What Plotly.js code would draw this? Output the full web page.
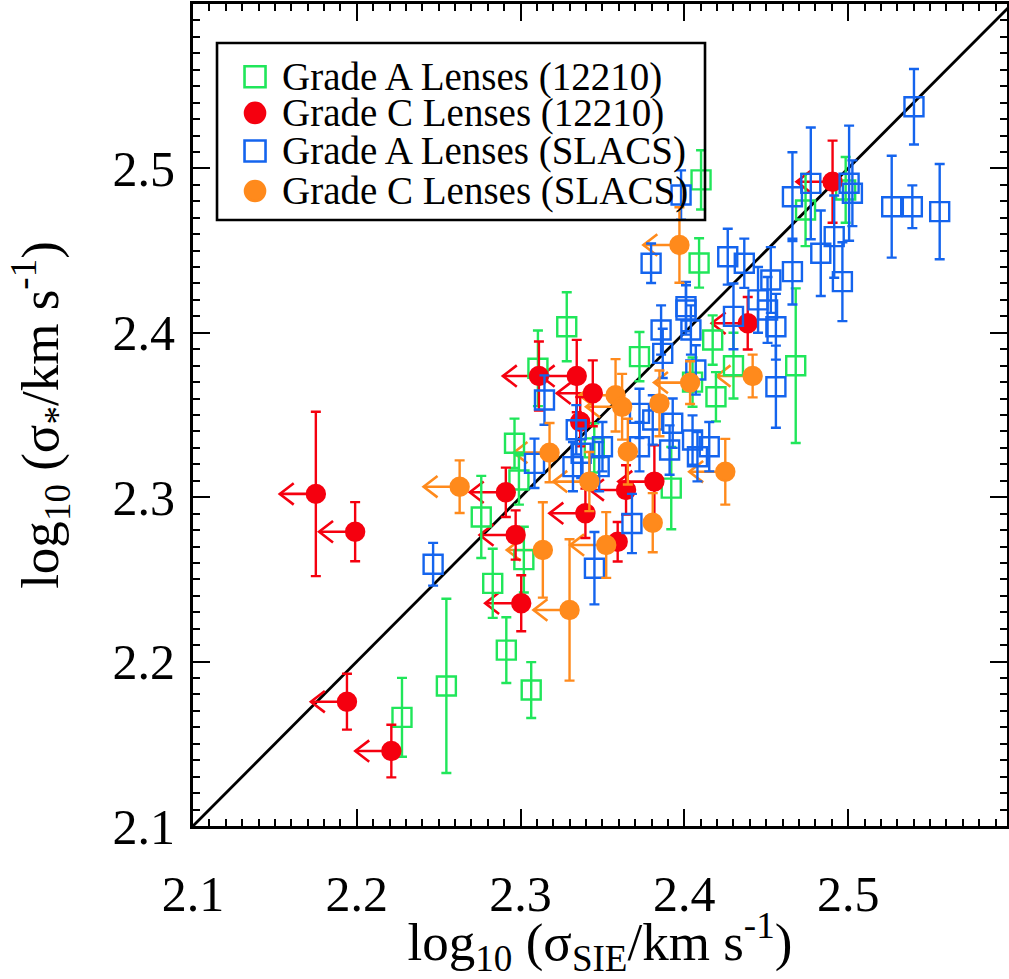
<!DOCTYPE html>
<html>
<head>
<meta charset="utf-8">
<script src="https://cdn.plot.ly/plotly-3.0.1.min.js"></script>
<style>html,body{margin:0;padding:0;background:#fff;}#chart{width:1009px;height:979px;}</style>
</head>
<body>
<div id="chart"></div>
<script>
// ---- data ----
const tickVals = [2.1, 2.2, 2.3, 2.4, 2.5];
const tickText = ["2.1", "2.2", "2.3", "2.4", "2.5"];
const oneToOne = [2.1, 2.6];

const seriesNames = ["Grade A Lenses (12210)", "Grade C Lenses (12210)", "Grade A Lenses (SLACS)", "Grade C Lenses (SLACS)"];

// Grade A (12210) - green open squares
const gAx = [2.2547, 2.2276, 2.276, 2.283, 2.2913, 2.3065, 2.302, 2.3282, 2.3106, 2.2963, 2.299, 2.3726, 2.4173, 2.4193, 2.468, 2.4102, 2.409, 2.474, 2.4985, 2.392, 2.345, 2.405, 2.43];
const gAy = [2.1852, 2.1661, 2.288, 2.2476, 2.207, 2.1827, 2.262, 2.4037, 2.3784, 2.3328, 2.3105, 2.3855, 2.3956, 2.3611, 2.38, 2.493, 2.4425, 2.4747, 2.4869, 2.3055, 2.33, 2.37, 2.38];
const gAe = [0.053, 0.024, 0.025, 0.021, 0.02, 0.017, 0.02, 0.021, 0.023, 0.015, 0.015, 0.015, 0.015, 0.015, 0.047, 0.018, 0.015, 0.022, 0.02, 0.025, 0.015, 0.015, 0.02];

// Grade C (12210) - red filled circles
const gCx = [2.175, 2.199, 2.194, 2.2211, 2.291, 2.297, 2.3004, 2.3396, 2.3593, 2.3644, 2.3817, 2.3112, 2.3343, 2.3441, 2.3364, 2.4387, 2.4905];
const gCy = [2.302, 2.279, 2.1756, 2.1456, 2.303, 2.277, 2.2355, 2.2902, 2.2729, 2.3044, 2.3095, 2.3737, 2.3737, 2.3632, 2.3459, 2.4058, 2.4919];
const gCe = [0.05, 0.018, 0.017, 0.016, 0.015, 0.015, 0.017, 0.015, 0.012, 0.015, 0.022, 0.021, 0.022, 0.02, 0.015, 0.016, 0.025];
const gClim = [1, 1, 1, 1, 1, 1, 1, 1, 0, 1, 1, 1, 1, 1, 0, 1, 1];

// Grade A (SLACS) - blue open squares
const sAx = [2.2466, 2.3451, 2.368, 2.3085, 2.3146, 2.3858, 2.401, 2.404, 2.4508, 2.4559, 2.4559, 2.407, 2.3807, 2.3929, 2.405, 2.4152, 2.3726, 2.3868, 2.3797, 2.398, 2.4265, 2.4366, 2.466, 2.401, 2.4528, 2.466, 2.5402, 2.5266, 2.5392, 2.5559, 2.5006, 2.5026, 2.4772, 2.4915, 2.4833, 2.4965, 2.334, 2.337, 2.332, 2.348, 2.350, 2.3726, 2.408, 2.391, 2.43, 2.445];
const sAy = [2.2592, 2.2568, 2.284, 2.3206, 2.3591, 2.4017, 2.4139, 2.4017, 2.4139, 2.4037, 2.3672, 2.3774, 2.347, 2.345, 2.3348, 2.3307, 2.351, 2.3875, 2.4423, 2.4838, 2.4463, 2.4423, 2.4372, 2.4159, 2.4321, 2.4828, 2.5375, 2.4767, 2.4767, 2.4737, 2.491, 2.4849, 2.4909, 2.4585, 2.4484, 2.4311, 2.341, 2.3267, 2.3186, 2.3186, 2.3307, 2.3307, 2.3246, 2.3287, 2.41, 2.42];
const sAe = [0.013, 0.022, 0.018, 0.015, 0.015, 0.015, 0.015, 0.015, 0.02, 0.02, 0.025, 0.015, 0.015, 0.015, 0.015, 0.015, 0.015, 0.015, 0.012, 0.015, 0.017, 0.015, 0.02, 0.015, 0.02, 0.027, 0.023, 0.031, 0.013, 0.029, 0.035, 0.02, 0.034, 0.025, 0.026, 0.024, 0.015, 0.015, 0.015, 0.015, 0.015, 0.015, 0.015, 0.015, 0.02, 0.02];

// Grade C (SLACS) - orange filled circles
const sCx = [2.2628, 2.3136, 2.3299, 2.3523, 2.342, 2.3177, 2.358, 2.362, 2.3655, 2.3848, 2.4035, 2.4417, 2.425, 2.397, 2.3807];
const sCy = [2.3064, 2.2679, 2.2314, 2.2709, 2.3095, 2.3271, 2.362, 2.355, 2.3277, 2.3571, 2.3697, 2.3737, 2.3155, 2.4534, 2.2845];
const sCe = [0.016, 0.029, 0.043, 0.02, 0.018, 0.018, 0.022, 0.02, 0.02, 0.02, 0.013, 0.013, 0.02, 0.023, 0.018];
const sClim = [1, 1, 1, 1, 1, 1, 1, 1, 0, 0, 1, 1, 1, 1, 0];

// ---- styling / layout constants ----
const GREEN = '#20E65A', RED = '#F5000F', BLUE = '#1464EE', ORANGE = '#FF8A1C';
const COLORS = [GREEN, RED, BLUE, ORANGE];
const SYMBOLS = ['square-open', 'circle', 'square-open', 'circle'];
const ARROW_LEN = 0.022, HEAD_DX = 0.0085, HEAD_DY = 0.0065;
const FONT = 'Liberation Serif, Times New Roman, serif';
// legend box (paper fractions of the plot area)
const LEG = {x0: 0.0295, x1: 0.629, y0: 0.7372, y1: 0.9526, markX: 0.0762, textX: 0.1069, rows: [0.9115, 0.8675, 0.8212, 0.7725]};

function arrowTrace(xs, ys, lim, color) {
  const X = [], Y = [];
  for (let i = 0; i < xs.length; i++) {
    if (!lim[i]) continue;
    const x = xs[i], y = ys[i], tip = x - ARROW_LEN;
    X.push(x, tip, null, tip + HEAD_DX, tip, tip + HEAD_DX, null);
    Y.push(y, y, null, y + HEAD_DY, y, y - HEAD_DY, null);
  }
  return {x: X, y: Y, mode: 'lines', line: {color: color, width: 2.6}, hoverinfo: 'skip', showlegend: false};
}

function errTrace(name, xs, ys, es, k) {
  const size = SYMBOLS[k] === 'circle' ? 18 : 19;
  return {
    name: name, x: xs, y: ys, mode: 'markers', type: 'scatter', showlegend: false,
    marker: {symbol: SYMBOLS[k], size: size, color: COLORS[k], line: {color: COLORS[k], width: 2.4}},
    error_y: {type: 'data', array: es, visible: true, color: COLORS[k], thickness: 2.4, width: 5}
  };
}

const traces = [
  {x: oneToOne, y: oneToOne, mode: 'lines', line: {color: '#000', width: 2.8}, showlegend: false, hoverinfo: 'skip'},
  arrowTrace(gCx, gCy, gClim, RED),
  arrowTrace(sCx, sCy, sClim, ORANGE),
  errTrace(seriesNames[0], gAx, gAy, gAe, 0),
  errTrace(seriesNames[1], gCx, gCy, gCe, 1),
  errTrace(seriesNames[2], sAx, sAy, sAe, 2),
  errTrace(seriesNames[3], sCx, sCy, sCe, 3)
];

// legend key markers, drawn on an invisible overlay axis spanning the plot area
seriesNames.forEach(function (nm, k) {
  traces.push({
    x: [LEG.markX], y: [LEG.rows[k]], xaxis: 'x2', yaxis: 'y2', mode: 'markers', showlegend: false, hoverinfo: 'skip',
    marker: {symbol: SYMBOLS[k], size: SYMBOLS[k] === 'circle' ? 20 : 21, color: COLORS[k], line: {color: COLORS[k], width: 2.6}}
  });
});

const annotations = seriesNames.map(function (nm, k) {
  return {text: nm, xref: 'paper', yref: 'paper', x: LEG.textX, y: LEG.rows[k], xanchor: 'left', yanchor: 'middle',
          showarrow: false, font: {family: FONT, size: 39, color: '#000'}};
});

function axis(titleText, standoff, labelStandoff) {
  return {
    range: [2.1, 2.597],
    tickmode: 'array', tickvals: tickVals, ticktext: tickText,
    ticks: 'inside', ticklen: 17, tickwidth: 2, tickcolor: '#000',
    minor: {tickmode: 'linear', tick0: 2.1, dtick: 0.01, ticks: 'inside', ticklen: 7, tickwidth: 2, tickcolor: '#000', showgrid: false},
    showline: true, linewidth: 3, linecolor: '#000', mirror: 'allticks',
    showgrid: false, zeroline: false,
    tickfont: {family: FONT, size: 50, color: '#000'},
    ticklabelstandoff: labelStandoff,
    title: {text: titleText, font: {family: FONT, size: 53, color: '#000'}, standoff: standoff},
    automargin: false
  };
}

const xa = axis('log<sub>10</sub> (σ<sub>SIE</sub>/km s<sup>-1</sup>)', 14, 22);
const ya = axis('log<sub>10</sub> (σ<sub>*</sub>/km s<sup>-1</sup>)', 37, 5);
ya.range = [2.1, 2.6];

const layout = {
  width: 1009, height: 979,
  margin: {l: 193, r: 2, t: 4, b: 153},
  paper_bgcolor: '#fff', plot_bgcolor: '#fff',
  xaxis: xa, yaxis: ya,
  xaxis2: {overlaying: 'x', range: [0, 1], visible: false, fixedrange: true},
  yaxis2: {overlaying: 'y', range: [0, 1], visible: false, fixedrange: true},
  showlegend: false,
  shapes: [{type: 'rect', xref: 'paper', yref: 'paper', x0: LEG.x0, x1: LEG.x1, y0: LEG.y0, y1: LEG.y1,
            line: {color: '#000', width: 2.6}, fillcolor: 'rgba(255,255,255,0)', layer: 'above'}],
  annotations: annotations
};

Plotly.newPlot('chart', traces, layout, {staticPlot: true, displayModeBar: false});
</script>
</body>
</html>
